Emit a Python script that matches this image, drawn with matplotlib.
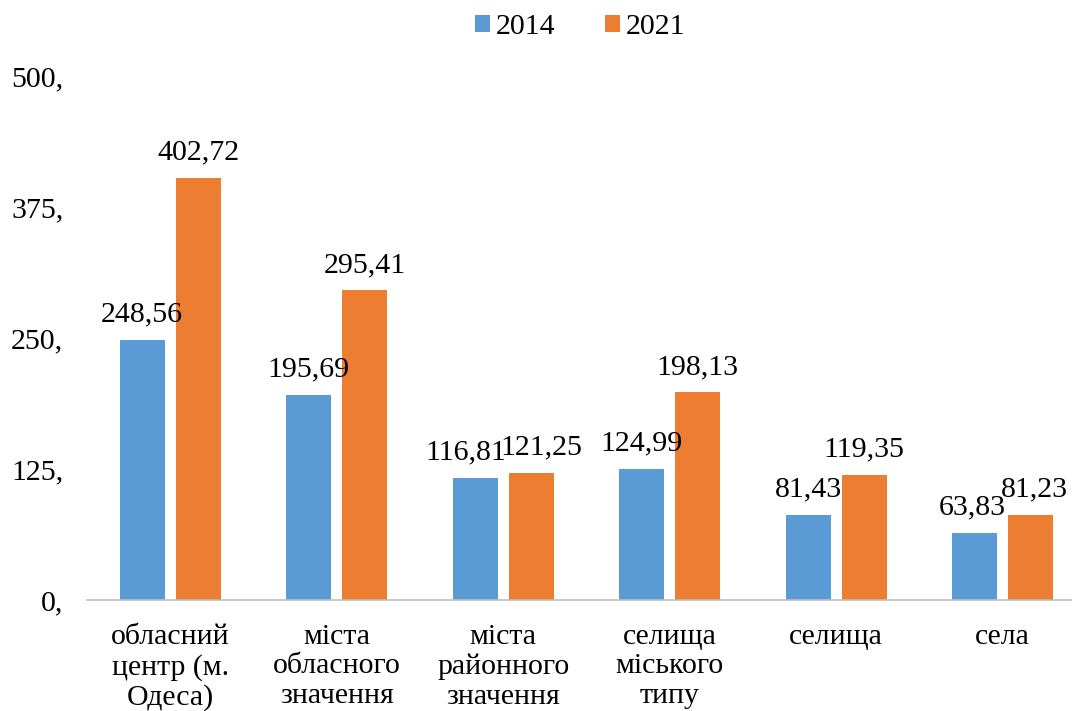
import matplotlib.pyplot as plt
import numpy as np

plt.rcParams['font.family'] = ['Liberation Serif', 'DejaVu Serif']

# data
categories = ["обласний\nцентр (м.\nОдеса)", "міста\nобласного\nзначення",
              "міста\nрайонного\nзначення", "селища\nміського\nтипу",
              "селища", "села"]
v2014 = [248.56, 195.69, 116.81, 124.99, 81.43, 63.83]
v2021 = [402.72, 295.41, 121.25, 198.13, 119.35, 81.23]
yticks = [0, 125, 250, 375, 500]

blue = "#5B9BD5"
orange = "#ED7D31"
fs = 21.5

fig = plt.figure(figsize=(10.72, 7.11), dpi=100)
ax = fig.add_axes([0.081, 0.156, 0.932, 0.737])

x = np.arange(len(categories))
w = 0.27
off = 0.168
b1 = ax.bar(x - off, v2014, w, color=blue, label="2014")
b2 = ax.bar(x + off, v2021, w, color=orange, label="2021")

def fmt(v):
    return f"{v:.2f}".replace(".", ",")

# small horizontal nudges so neighbouring labels don't collide
nudge = {(0, 2): -7, (1, 2): 7, (0, 5): -2, (1, 5): 3}
for k, (bars, vals) in enumerate(((b1, v2014), (b2, v2021))):
    for i, (b, v) in enumerate(zip(bars, vals)):
        ax.annotate(fmt(v), (b.get_x() + b.get_width() / 2, v),
                    xytext=(nudge.get((k, i), 0), 9), textcoords="offset points",
                    ha="center", va="bottom", fontsize=fs)

ax.set_xlim(-0.5, 5.5)
ax.set_ylim(0, 500)
ax.set_yticks(yticks)
ax.set_yticklabels([f"{t}," for t in yticks], fontsize=fs)
ax.set_xticks(x)
ax.set_xticklabels(categories, fontsize=fs, linespacing=1.19)
ax.tick_params(length=0)
ax.tick_params(axis="y", pad=17)
ax.tick_params(axis="x", pad=17)
for s in ("top", "right", "left"):
    ax.spines[s].set_visible(False)
ax.spines["bottom"].set_color("#BFBFBF")
ax.spines["bottom"].set_linewidth(1.2)

fig.legend(loc="upper center", bbox_to_anchor=(0.541, 1.018), ncol=2,
           frameon=False, fontsize=fs, handlelength=0.5, handleheight=0.5,
           columnspacing=1.65, handletextpad=0.2)

fig.savefig("out.png", dpi=100)
